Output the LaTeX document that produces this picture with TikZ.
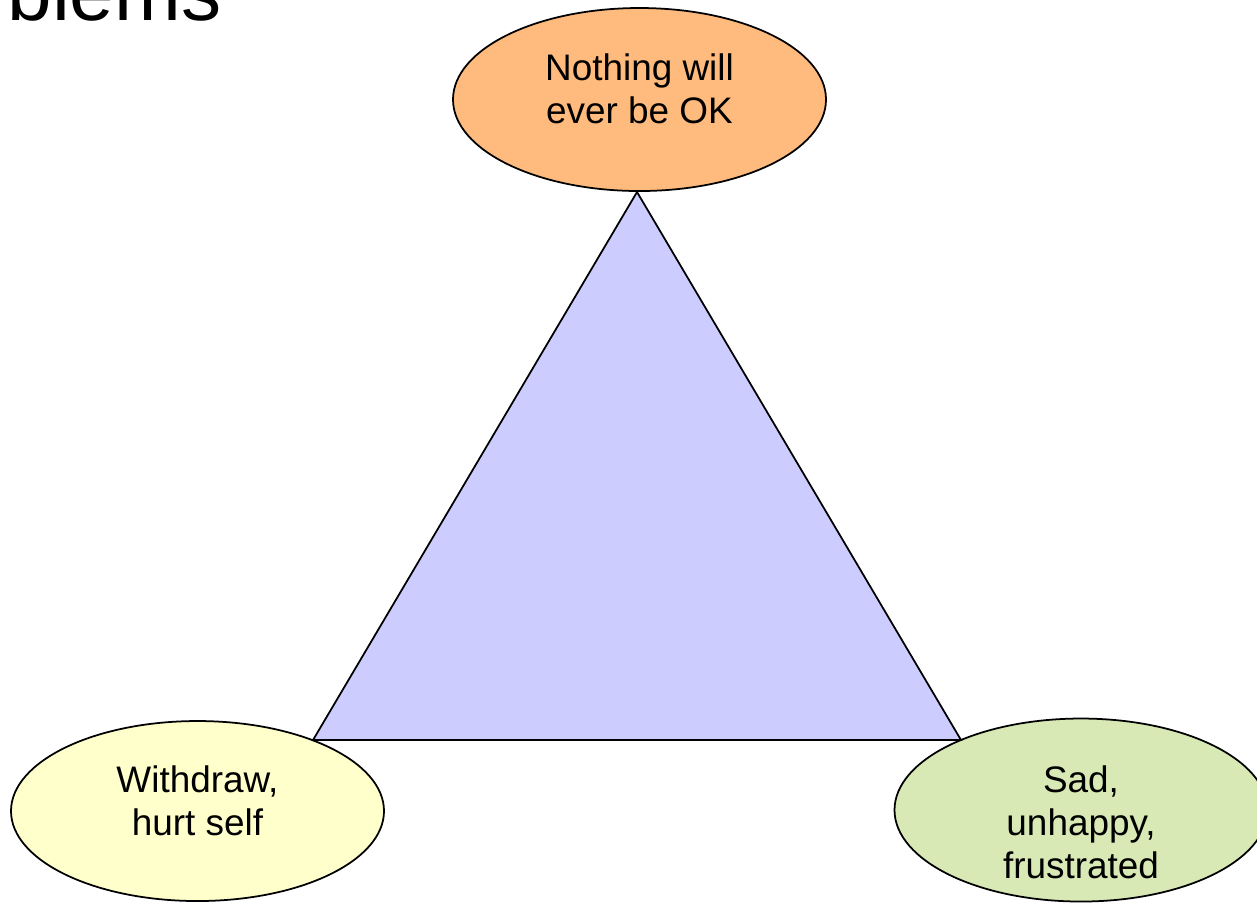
\documentclass[tikz,border=0pt]{standalone}
\usepackage{fontspec}
\setmainfont{Liberation Sans}
\usepackage{tikz}
\usetikzlibrary{shapes.geometric}

\definecolor{okorange}{RGB}{255,187,126}
\definecolor{selfyellow}{RGB}{255,255,204}
\definecolor{sadgreen}{RGB}{216,233,181}
\definecolor{trililac}{RGB}{204,204,255}

\tikzset{
  bubble/.style={ellipse, draw, line width=0.5pt, minimum width=3.73cm, minimum height=1.83cm, inner sep=0pt},
  bubbletext/.style={align=center, font=\fontsize{10.5}{12.2}\selectfont}
}

\begin{document}
\begin{tikzpicture}
                \useasboundingbox (0,0) rectangle (12.57,-9.02);
                \clip (0,0) rectangle (12.57,-9.02);
                \coordinate (T) at (6.37,-1.92);
                \coordinate (L) at (3.13,-7.40);
                \coordinate (R) at (9.61,-7.40);
                % title, cut off at the top left
                \node[anchor=base east, inner sep=0pt, font=\fontsize{22.8}{24}\selectfont] (title) at (2.22,-0.20) {blems};
                % the three corners
                \node[bubble, fill=okorange] (ok) at (6.395,-0.995) {};
                \node[bubble, fill=selfyellow, minimum height=1.80cm] (self) at (1.975,-8.11) {};
                \node[bubble, fill=sadgreen] (sad) at (10.81,-8.10) {};
                \draw[fill=trililac, line width=0.5pt] (T) -- (L) -- (R) -- cycle;
                \node[bubbletext] at ([yshift=0.11cm]ok) {Nothing will\\ever be OK};
                \node[bubbletext] at ([yshift=0.10cm]self) {Withdraw,\\hurt self};
                \node[bubbletext] at ([yshift=-0.12cm]sad) {Sad,\\unhappy,\\frustrated};
            \end{tikzpicture}
\end{document}
